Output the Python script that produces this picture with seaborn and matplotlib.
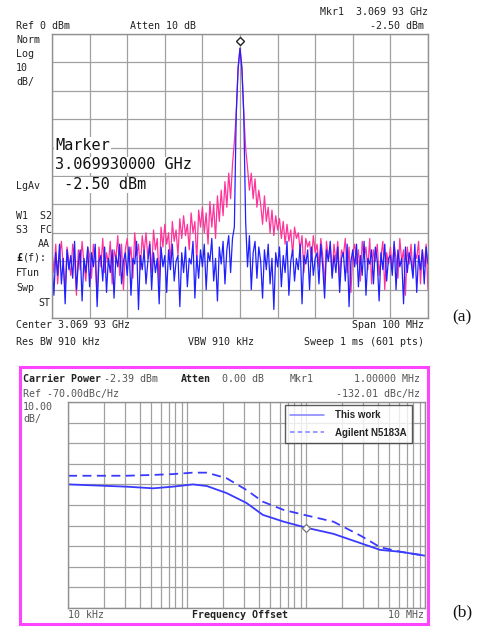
import numpy as np
import pandas as pd
import matplotlib
matplotlib.use("Agg")
import matplotlib.pyplot as plt
from matplotlib.lines import Line2D
from matplotlib.patches import Rectangle
import seaborn as sns

# ---------------- data: panel (a) spectrum (offset from 3.06993 GHz, MHz) ----------------
offset_mhz = np.linspace(-50, 50, 201)

pink_dbm = [
    -76, -84, -74, -88, -78, -73, -82, -90, -75, -80,
    -85, -74, -79, -92, -76, -83, -73, -81, -87, -75,
    -78, -86, -74, -80, -93, -75, -82, -72, -84, -77,
    -81, -73, -88, -76, -79, -71, -85, -74, -90, -76,
    -72, -80, -75, -86, -70, -78, -74, -83, -71, -77,
    -70, -79, -73, -84, -69, -76, -72, -88, -68, -75,
    -67, -74, -70, -81, -66, -73, -69, -78, -65, -72,
    -64, -71, -67, -76, -63, -70, -66, -80, -62, -68,
    -61, -70, -63, -74, -59, -68, -60, -72, -57, -66,
    -55, -64, -52, -61, -49, -58, -46, -38, -28, -12,
    -5,
    -12, -28, -40, -47, -55, -49, -58, -51, -61, -55,
    -60, -67, -57, -66, -61, -70, -62, -71, -64, -69,
    -65, -72, -66, -74, -67, -73, -69, -78, -68, -72,
    -70, -76, -71, -84, -72, -75, -73, -80, -71, -77,
    -74, -82, -72, -78, -88, -73, -79, -75, -85, -74,
    -80, -73, -86, -76, -78, -72, -84, -75, -91, -77,
    -74, -81, -76, -87, -73, -79, -75, -83, -72, -88,
    -76, -80, -74, -85, -78, -73, -90, -77, -81, -75,
    -83, -74, -79, -86, -72, -80, -76, -92, -75, -81,
    -74, -85, -77, -79, -73, -88, -76, -82, -74, -90,
]

blue_dbm = [
    -80, -92, -77, -85, -74, -88, -79, -95, -76, -83,
    -78, -86, -73, -90, -81, -76, -94, -79, -84, -75,
    -89, -77, -82, -74, -96, -80, -78, -87, -75, -91,
    -79, -84, -76, -93, -78, -82, -74, -88, -80, -77,
    -85, -75, -92, -79, -81, -73, -97, -78, -83, -76,
    -88, -80, -74, -90, -77, -84, -79, -95, -75, -82,
    -78, -91, -76, -83, -74, -87, -80, -78, -96, -77,
    -84, -75, -89, -79, -81, -73, -93, -78, -86, -76,
    -82, -74, -90, -77, -80, -72, -87, -79, -94, -75,
    -81, -73, -88, -76, -71, -84, -72, -68, -28, -12,
    -5,
    -12, -28, -66, -82, -71, -90, -77, -73, -86, -75,
    -80, -93, -76, -83, -74, -88, -79, -97, -77, -82,
    -75, -89, -78, -84, -73, -92, -80, -76, -87, -79,
    -83, -74, -95, -78, -81, -76, -90, -75, -85, -79,
    -77, -88, -74, -82, -93, -76, -80, -73, -86, -78,
    -84, -75, -91, -79, -77, -87, -74, -96, -80, -76,
    -82, -74, -89, -78, -85, -73, -92, -79, -81, -76,
    -88, -75, -80, -94, -77, -83, -74, -87, -79, -78,
    -85, -73, -90, -76, -82, -79, -95, -75, -84, -77,
    -80, -86, -74, -91, -78, -83, -76, -88, -75, -81,
]

marker_a_offset = 0.0
marker_a_dbm = -2.5

# ---------------- data: panel (b) phase noise ----------------
pn_freq_hz = [1e4, 3.1e4, 5.2e4, 7.6e4, 1.12e5, 1.47e5, 2.15e5, 3.16e5,
              4.34e5, 6.5e5, 1e6, 1.7e6, 2.9e6, 4.2e6, 6.2e6, 1e7]
this_work_dbc = [-110.0, -111.1, -111.9, -111.1, -110.0, -110.8, -114.2, -119.0,
                 -124.8, -128.1, -131.0, -134.0, -138.6, -141.8, -142.7, -144.6]
agilent_dbc = [-105.8, -105.8, -105.4, -105.0, -104.3, -104.3, -107.0, -112.7,
               -118.4, -122.4, -125.0, -128.1, -135.0, -140.5, -142.7, -144.6]
marker_b_freq = 1e6
marker_b_dbc = -131.0
legend_labels = ["This work", "Agilent N5183A"]

# ---------------- figure ----------------
sns.set_style("white")
plt.rcParams["font.family"] = ["DejaVu Sans Mono", "DejaVu Sans"]

W, H = 480, 627
fig = plt.figure(figsize=(W / 100, H / 100), dpi=100)
fig.patch.set_facecolor("white")


def fx(x):
    return x / W


def fy(y):
    return 1 - y / H


def ftext(x, y, s, ha="left", size=7.2, color="#222222", weight="normal", **kw):
    fig.text(fx(x), fy(y), s, ha=ha, va="center", fontsize=size, color=color,
             fontweight=weight, **kw)


GRID = "#a0a0a0"

# ---------- panel (a) ----------
axa = fig.add_axes([fx(52), fy(318), 376 / W, 284 / H])
df_a = pd.DataFrame({"offset": offset_mhz, "pink": pink_dbm, "blue": blue_dbm})
sns.lineplot(data=df_a, x="offset", y="pink", ax=axa, color="#ff3399", lw=0.9,
             estimator=None, sort=False)
sns.lineplot(data=df_a, x="offset", y="blue", ax=axa, color="#1f1fff", lw=0.9,
             estimator=None, sort=False)
axa.plot([marker_a_offset], [marker_a_dbm], marker="D", ms=4.5, mfc="white",
         mec="#222222", mew=1.0, ls="none", zorder=5)
axa.set_xlim(-50, 50)
axa.set_ylim(-100, 0)
axa.set_xticks(np.arange(-50, 51, 10))
axa.set_yticks(np.arange(-100, 1, 10))
axa.grid(True, color=GRID, lw=0.9)
axa.tick_params(length=0, labelbottom=False, labelleft=False)
axa.set_xlabel("")
axa.set_ylabel("")
for sp in axa.spines.values():
    sp.set_color("#909090")
    sp.set_linewidth(1.0)

# header texts
ftext(428, 12, "Mkr1  3.069 93 GHz", ha="right")
ftext(16, 26, "Ref 0 dBm")
ftext(130, 26, "Atten 10 dB")
ftext(424, 26, "-2.50 dBm", ha="right")
for yy, s in [(40, "Norm"), (54, "Log"), (68, "10"), (82, "dB/"), (186, "LgAv"),
              (216, "W1  S2"), (230, "S3  FC"), (273, "FTun"), (288, "Swp")]:
    ftext(16, yy, s)
ftext(50, 244, "AA", ha="right")
ftext(50, 303, "ST", ha="right")
fig.text(fx(16), fy(258), "£", ha="left", va="center", fontsize=7.2,
         fontweight="bold", color="#111111")
ftext(23, 258, "(f):")
ftext(16, 325, "Center 3.069 93 GHz")
ftext(424, 325, "Span 100 MHz", ha="right")
ftext(16, 342, "Res BW 910 kHz")
ftext(188, 342, "VBW 910 kHz")
ftext(424, 342, "Sweep 1 ms (601 pts)", ha="right")

big = dict(size=11, color="#111111",
           bbox=dict(facecolor="white", edgecolor="none", pad=0.5))
ftext(55, 145, "Marker", **big)
ftext(55, 165, "3.069930000 GHz", **big)
ftext(55, 185, " -2.50 dBm", **big)

fig.text(fx(452), fy(317), "(a)", ha="left", va="center", fontsize=12.5,
         family="Liberation Serif", color="#111111")

# ---------- panel (b) ----------
fig.patches.append(Rectangle((fx(20), fy(624)), 408 / W, 257 / H,
                             transform=fig.transFigure, fill=False,
                             edgecolor="#ff44ff", lw=2.2, zorder=10))

axb = fig.add_axes([fx(68), fy(608), 357 / W, 206 / H])
df_b = pd.DataFrame({"freq": pn_freq_hz, "this": this_work_dbc, "agilent": agilent_dbc})
sns.lineplot(data=df_b, x="freq", y="agilent", ax=axb, color="#3a3aff", lw=1.3,
             linestyle=(0, (5, 3)))
sns.lineplot(data=df_b, x="freq", y="this", ax=axb, color="#3a3aff", lw=1.3)
axb.plot([marker_b_freq], [marker_b_dbc], marker="D", ms=4, mfc="white",
         mec="#777777", mew=0.9, ls="none", zorder=5)
axb.set_xscale("log")
axb.set_xlim(1e4, 1e7)
axb.set_ylim(-170, -70)
xt = [m * 10 ** k for k in (4, 5, 6) for m in range(1, 10)] + [1e7]
axb.set_xticks(xt)
axb.xaxis.set_minor_locator(matplotlib.ticker.NullLocator())
axb.set_yticks(np.arange(-170, -69, 10))
axb.grid(True, color=GRID, lw=0.9)
axb.tick_params(length=0, labelbottom=False, labelleft=False)
axb.set_xlabel("")
axb.set_ylabel("")
for sp in axb.spines.values():
    sp.set_color("#909090")
    sp.set_linewidth(1.0)

handles = [Line2D([0], [0], color="#8080ff", lw=1.1),
           Line2D([0], [0], color="#8080ff", lw=1.1, linestyle=(0, (3, 2)))]
leg = axb.legend(handles, legend_labels, loc="upper left",
                 bbox_to_anchor=(0.608, 0.985), frameon=True, fancybox=False,
                 prop=dict(family="Liberation Sans", weight="bold", size=7.0),
                 handlelength=3.5, borderpad=0.55, labelspacing=0.75,
                 handletextpad=1.1, borderaxespad=0)
leg.get_frame().set_edgecolor("#333333")
leg.get_frame().set_linewidth(1.0)

gray = "#555555"
ftext(23, 379, "Carrier Power", weight="bold", color="#222222")
ftext(104, 379, "-2.39 dBm", color=gray)
ftext(181, 379, "Atten", weight="bold", color="#222222")
ftext(222, 379, "0.00 dB", color=gray)
ftext(290, 379, "Mkr1", color=gray)
ftext(420, 379, "1.00000 MHz", ha="right", color=gray)
ftext(23, 394, "Ref -70.00dBc/Hz", color=gray)
ftext(420, 394, "-132.01 dBc/Hz", ha="right", color=gray)
ftext(23, 407, "10.00", color=gray)
ftext(23, 419, "dB/", color=gray)
ftext(68, 615, "10 kHz", color=gray)
ftext(240, 615, "Frequency Offset", ha="center", weight="bold", color="#222222")
ftext(424, 615, "10 MHz", ha="right", color=gray)

fig.text(fx(452), fy(612), "(b)", ha="left", va="center", fontsize=12.5,
         family="Liberation Serif", color="#111111")

fig.savefig("out.png", dpi=100)
